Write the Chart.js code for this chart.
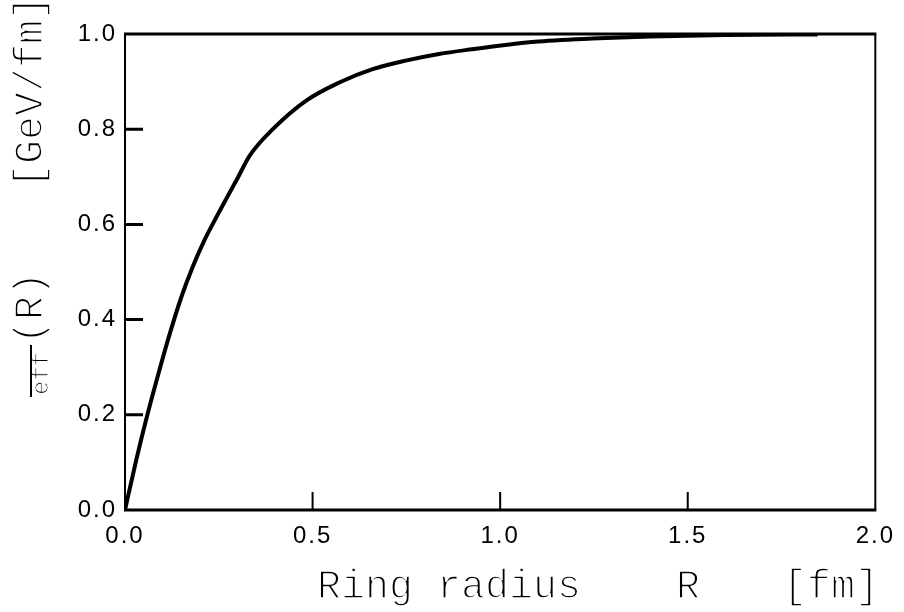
<!DOCTYPE html>
<html>
<head>
<meta charset="utf-8">
<script src="https://cdn.jsdelivr.net/npm/chart.js@4/dist/chart.umd.min.js"></script>
<style>
  html, body { margin: 0; padding: 0; background: #fff; }
  #wrap { width: 904px; height: 612px; }
</style>
</head>
<body>
<div id="wrap"><canvas id="chart" width="904" height="612"></canvas></div>
<script>
// Ring radius R [fm] and effective string tension [GeV/fm]
const radius = [0, 0.03, 0.06, 0.09, 0.12, 0.15, 0.18, 0.21, 0.24, 0.27, 0.30, 0.332, 0.394, 0.483, 0.571, 0.66, 0.748, 0.837, 0.925, 1.014, 1.102, 1.262, 1.4, 1.6, 1.846];
const sigmaEff = [0, 0.105, 0.201, 0.289, 0.372, 0.447, 0.51, 0.564, 0.61, 0.654, 0.697, 0.744, 0.8, 0.86, 0.898, 0.926, 0.944, 0.958, 0.968, 0.977, 0.984, 0.991, 0.995, 0.998, 0.999];

const xTicks = [0, 0.5, 1.0, 1.5, 2.0];
const yTicks = [0, 0.2, 0.4, 0.6, 0.8, 1.0];

const monoFont = "40px 'Liberation Mono', 'DejaVu Sans Mono', monospace";
const subFont = "24px 'Liberation Mono', 'DejaVu Sans Mono', monospace";

// draw thin, courier-like text: fill then trim the edges with white
function thinText(ctx, text, x, y, trim) {
  ctx.fillText(text, x, y);
  ctx.save();
  ctx.strokeStyle = "#fff";
  ctx.lineWidth = trim;
  ctx.lineJoin = "round";
  ctx.strokeText(text, x, y);
  ctx.restore();
}

// Frame, inward ticks and the two axis titles
const framePlugin = {
  id: "frame",
  beforeDraw(chart) {
    chart.ctx.letterSpacing = "2px";
  },
  afterDatasetsDraw(chart) {
    const { ctx, chartArea: a, scales } = chart;
    ctx.save();
    ctx.letterSpacing = "0px";
    ctx.strokeStyle = "#000";
    ctx.lineCap = "butt";

    // top and bottom
    ctx.lineWidth = 3;
    ctx.beginPath();
    ctx.moveTo(a.left - 1, a.top); ctx.lineTo(a.right + 1, a.top);
    ctx.moveTo(a.left - 1, a.bottom); ctx.lineTo(a.right + 1, a.bottom);
    ctx.stroke();

    // left and right
    ctx.lineWidth = 2;
    ctx.beginPath();
    ctx.moveTo(a.left, a.top); ctx.lineTo(a.left, a.bottom);
    ctx.moveTo(a.right, a.top); ctx.lineTo(a.right, a.bottom);
    ctx.stroke();

    // y ticks
    ctx.lineWidth = 3;
    ctx.beginPath();
    yTicks.slice(1, -1).forEach(v => {
      const py = scales.y.getPixelForValue(v);
      ctx.moveTo(a.left, py); ctx.lineTo(a.left + 18, py);
    });
    ctx.stroke();

    // x ticks
    ctx.lineWidth = 2;
    ctx.beginPath();
    xTicks.slice(1, -1).forEach(v => {
      const px = scales.x.getPixelForValue(v);
      ctx.moveTo(px, a.bottom); ctx.lineTo(px, a.bottom - 18);
    });
    ctx.stroke();

    // x title
    ctx.fillStyle = "#000";
    ctx.font = monoFont;
    ctx.textBaseline = "alphabetic";
    ctx.textAlign = "left";
    thinText(ctx, "Ring radius", 317, 598, 1.6);
    thinText(ctx, "R", 676, 598, 1.6);
    thinText(ctx, "[fm]", 783, 598, 1.6);

    // y title, rotated (sigma glyph is missing in the original, only its bar shows)
    ctx.rotate(-Math.PI / 2);
    thinText(ctx, "[GeV/fm]", -188, 42, 1.6);
    thinText(ctx, "(R)", -344, 42, 1.6);
    ctx.font = subFont;
    thinText(ctx, "eff", -395, 48, 1);
    ctx.lineWidth = 2;
    ctx.beginPath();
    ctx.moveTo(-397, 31); ctx.lineTo(-345, 31);
    ctx.stroke();
    ctx.restore();
  }
};

const points = radius.map((r, i) => ({ x: r, y: sigmaEff[i] }));

new Chart(document.getElementById("chart"), {
  type: "line",
  data: {
    datasets: [{
      data: points,
      borderColor: "#000",
      borderWidth: 4,
      pointRadius: 0,
      fill: false,
      cubicInterpolationMode: "monotone"
    }]
  },
  options: {
    responsive: false,
    animation: false,
    layout: { padding: { top: 34, right: 26, left: 0, bottom: 0 } },
    plugins: { legend: { display: false }, tooltip: { enabled: false } },
    scales: {
      x: {
        type: "linear",
        min: 0,
        max: 2,
        afterBuildTicks: s => { s.ticks = xTicks.map(v => ({ value: v })); },
        ticks: {
          callback: v => v.toFixed(1),
          font: { family: "'Liberation Sans', Arial, sans-serif", size: 24 },
          color: "#000",
          padding: 12,
          maxRotation: 0
        },
        grid: { display: false, drawTicks: false },
        border: { display: false },
        afterFit: s => { s.height = 102; }
      },
      y: {
        min: 0,
        max: 1,
        afterBuildTicks: s => { s.ticks = yTicks.map(v => ({ value: v })); },
        ticks: {
          callback: v => v.toFixed(1),
          font: { family: "'Liberation Sans', Arial, sans-serif", size: 24 },
          color: "#000",
          padding: 8
        },
        grid: { display: false, drawTicks: false },
        border: { display: false },
        afterFit: s => { s.width = 125; }
      }
    }
  },
  plugins: [framePlugin]
});
</script>
</body>
</html>
